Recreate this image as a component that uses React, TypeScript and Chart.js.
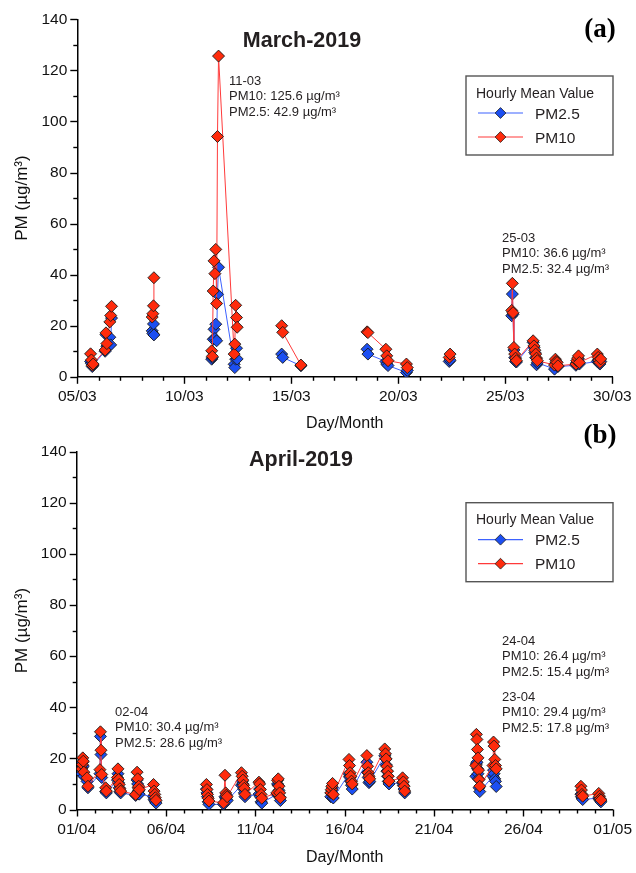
import React, { useEffect, useRef } from 'react';
import { Chart, registerables } from 'chart.js';

Chart.register(...registerables);

// ---------------- DATA ----------------
// March 2019: time = day of month (fractional, hourly readings)
const marchTime = [
  5.62, 5.66, 5.70, 5.74, 6.30, 6.34, 6.38, 6.52, 6.56, 6.60,
  8.50, 8.53, 8.56, 8.58,
  11.28, 11.31, 11.35, 11.39, 11.43, 11.47, 11.51, 11.55, 11.60,
  12.33, 12.36, 12.40, 12.44, 12.47,
  14.55, 14.60, 15.45,
  18.54, 18.58, 19.42, 19.46, 19.52, 20.38, 20.42,
  22.38, 22.42,
  25.30, 25.33, 25.36, 25.40, 25.44, 25.48, 25.52,
  26.30, 26.34, 26.38, 26.42, 26.46, 26.50,
  27.30, 27.34, 27.38, 27.42, 27.46,
  28.30, 28.34, 28.38, 28.42, 28.46,
  29.30, 29.34, 29.38, 29.42, 29.46,
];
const marchPM25 = [
  6.0, 5.2, 4.0, 4.6, 10.0, 16.5, 12.0, 15.5, 12.5, 23.0,
  18.0, 17.0, 20.7, 16.4,
  6.9, 7.5, 14.7, 18.6, 15.0, 20.6, 14.1, 32.3, 42.9,
  4.9, 3.6, 6.9, 11.2, 7.0,
  8.9, 7.6, 4.3,
  10.8, 8.9, 6.0, 5.0, 4.4, 1.7, 2.5,
  6.0, 6.5,
  23.9, 32.4, 24.5, 10.5, 7.5, 6.0, 5.8,
  13.5, 11.5, 9.5, 7.5, 4.7, 5.5,
  3.0, 5.0, 5.5, 4.5, 4.0,
  4.5, 5.5, 6.5, 7.0, 5.0,
  6.0, 6.5, 5.5, 5.0, 6.0,
];
const marchPM10 = [
  9.0, 6.6, 4.5, 5.0, 10.5, 17.2, 13.0, 21.5, 24.0, 27.6,
  23.4, 24.7, 27.8, 38.8,
  10.2, 8.0, 33.6, 45.4, 40.4, 49.9, 28.7, 94.1, 125.6,
  8.9, 12.8, 28.0, 23.2, 19.4,
  20.0, 17.4, 4.6,
  17.6, 17.3, 10.8, 8.2, 6.3, 5.0, 3.6,
  7.6, 8.9,
  26.0, 36.6, 25.1, 11.5, 8.9, 7.3, 6.3,
  14.1, 12.1, 10.4, 8.9, 7.3, 6.3,
  4.6, 6.9, 6.0, 5.6, 4.3,
  5.0, 6.3, 7.3, 8.2, 5.6,
  8.9, 7.6, 6.5, 5.6, 7.0,
];
const marchTickValues = [5, 10, 15, 20, 25, 30];
const marchTickLabels = ['05/03', '10/03', '15/03', '20/03', '25/03', '30/03'];

// April 2019: time = day of month (31 = 01/05)
const aprilTime = [
  1.28, 1.31, 1.34, 1.37, 1.40, 1.58, 1.63,
  2.30, 2.33, 2.36, 2.40, 2.62, 2.66,
  3.28, 3.31, 3.34, 3.38, 3.42, 3.46,
  4.30, 4.38, 4.41, 4.44, 4.47, 4.50,
  5.30, 5.33, 5.37, 5.40, 5.44,
  8.26, 8.29, 8.32, 8.36, 8.40,
  9.22, 9.30, 9.34, 9.38, 9.42,
  10.22, 10.26, 10.30, 10.34, 10.38, 10.42,
  11.20, 11.24, 11.28, 11.32, 11.36,
  12.20, 12.24, 12.28, 12.32, 12.36, 12.40,
  15.22, 15.25, 15.28, 15.32, 15.36,
  16.24, 16.27, 16.30, 16.34, 16.38, 16.42,
  17.24, 17.28, 17.32, 17.36, 17.40,
  18.24, 18.28, 18.32, 18.36, 18.40, 18.44, 18.48,
  19.24, 19.28, 19.32, 19.36,
  23.34, 23.37, 23.40, 23.43, 23.46, 23.49, 23.52, 23.56,
  24.30, 24.33, 24.36, 24.40, 24.44, 24.48,
  29.22, 29.25, 29.28, 29.32,
  30.22, 30.26, 30.30, 30.34,
];
const aprilPM25 = [
  14.0, 16.5, 18.5, 17.0, 13.0, 11.0, 8.5,
  14.0, 28.6, 21.5, 12.5, 7.0, 6.5,
  11.5, 14.0, 10.5, 8.5, 7.0, 6.5,
  5.5, 11.5, 10.0, 7.0, 7.5, 6.0,
  5.0, 4.0, 3.5, 3.0, 2.5,
  8.0, 6.5, 5.0, 3.0, 2.0,
  2.0, 5.0, 4.5, 4.0, 3.5,
  9.5, 11.0, 10.0, 8.0, 6.5, 5.0,
  6.0, 8.0, 5.0, 3.0, 2.5,
  6.0, 10.0, 9.5, 7.5, 5.0, 3.5,
  5.0, 6.5, 7.5, 8.5, 4.5,
  14.0, 13.0, 12.5, 11.0, 9.5, 8.0,
  18.5, 14.5, 12.5, 10.5, 11.0,
  21.0, 20.0, 17.5, 15.0, 13.0, 11.0, 10.0,
  10.5, 9.5, 8.0, 6.5,
  13.0, 17.8, 18.5, 16.0, 14.0, 12.0, 8.5, 7.0,
  13.0, 15.4, 14.0, 12.0, 11.0, 9.0,
  6.0, 5.0, 4.5, 3.9,
  4.5, 4.0, 3.5, 3.0,
];
const aprilPM10 = [
  15.9, 17.6, 20.2, 18.9, 14.6, 12.4, 9.1,
  15.6, 30.4, 23.2, 13.7, 8.5, 7.2,
  12.5, 15.9, 11.7, 9.8, 8.1, 7.2,
  5.9, 14.6, 12.0, 8.5, 9.1, 7.8,
  9.8, 7.2, 5.9, 4.6, 3.6,
  9.8, 7.8, 5.9, 4.4, 3.3,
  2.6, 13.4, 6.5, 5.6, 5.0,
  14.4, 13.0, 11.5, 9.5, 8.3, 5.9,
  10.7, 10.0, 7.8, 5.9, 4.4,
  6.5, 11.4, 12.0, 9.1, 6.5, 4.6,
  6.5, 7.8, 9.1, 10.2, 5.9,
  19.6, 17.2, 14.4, 13.0, 11.1, 10.0,
  21.1, 16.9, 14.4, 13.0, 12.0,
  23.7, 21.8, 19.8, 16.9, 15.0, 13.0, 11.1,
  12.4, 10.8, 9.1, 7.2,
  17.2, 29.4, 27.4, 23.5, 20.2, 15.4, 11.7, 9.1,
  17.2, 26.4, 24.8, 19.6, 17.2, 15.9,
  9.1, 7.6, 5.9, 5.2,
  6.3, 5.2, 4.2, 3.7,
];
const aprilTickValues = [1, 6, 11, 16, 21, 26, 31];
const aprilTickLabels = ['01/04', '06/04', '11/04', '16/04', '21/04', '26/04', '01/05'];

const yTickValues = [0, 20, 40, 60, 80, 100, 120, 140];
const seriesNames = ['PM2.5', 'PM10'];
const legendTitle = 'Hourly Mean Value';
const xAxisTitle = 'Day/Month';
const yAxisTitle = 'PM (µg/m³)';

const marchTitle = 'March-2019';
const aprilTitle = 'April-2019';
const marchNotes = [
  ['11-03', 'PM10: 125.6 µg/m³', 'PM2.5: 42.9 µg/m³'],
  ['25-03', 'PM10: 36.6 µg/m³', 'PM2.5: 32.4 µg/m³'],
];
const aprilNotes = [
  ['02-04', 'PM10: 30.4 µg/m³', 'PM2.5: 28.6 µg/m³'],
  ['24-04', 'PM10: 26.4 µg/m³', 'PM2.5: 15.4 µg/m³'],
  ['23-04', 'PM10: 29.4 µg/m³', 'PM2.5: 17.8 µg/m³'],
];

// ---------------- STYLE ----------------
const FONT = '"Liberation Sans", Arial, Helvetica, sans-serif';
const BLUE_FILL = '#1c4ff2';
const BLUE_LINE = '#3d62ff';
const RED_FILL = '#ff2b0c';
const RED_LINE = '#ff3a3a';
const MARK_BORDER = '#1a1a1a';

function drawDiamond(ctx: CanvasRenderingContext2D, x: number, y: number, r: number, fill: string) {
  ctx.beginPath();
  ctx.moveTo(x, y - r);
  ctx.lineTo(x + r, y);
  ctx.lineTo(x, y + r);
  ctx.lineTo(x - r, y);
  ctx.closePath();
  ctx.fillStyle = fill;
  ctx.fill();
  ctx.lineWidth = 0.8;
  ctx.strokeStyle = MARK_BORDER;
  ctx.stroke();
}

const overlayPlugin = {
  id: 'overlay',
  afterDraw(chart: any, _args: any, opts: any) {
    const { ctx, chartArea } = chart;
    const xs = chart.scales.x;
    const ys = chart.scales.y;
    ctx.save();
    // tick marks (major + minor)
    ctx.strokeStyle = '#000';
    ctx.lineWidth = 1.4;
    for (let v = xs.min; v <= xs.max + 1e-6; v += 1) {
      const px = Math.round(xs.getPixelForValue(v)) + 0.5;
      const major = opts.xMajor.includes(v);
      ctx.beginPath();
      ctx.moveTo(px, chartArea.bottom);
      ctx.lineTo(px, chartArea.bottom + (major ? 7 : 4));
      ctx.stroke();
    }
    for (let v = ys.min; v <= ys.max + 1e-6; v += 10) {
      const py = Math.round(ys.getPixelForValue(v)) + 0.5;
      const major = v % 20 === 0;
      ctx.beginPath();
      ctx.moveTo(chartArea.left, py);
      ctx.lineTo(chartArea.left - (major ? 7 : 4), py);
      ctx.stroke();
    }
    // panel title
    ctx.fillStyle = '#231f20';
    ctx.textAlign = 'center';
    ctx.textBaseline = 'alphabetic';
    ctx.font = `bold 21.5px ${FONT}`;
    ctx.fillText(opts.title, opts.titleX, opts.titleY);
    // panel letter
    ctx.font = 'bold 27px "Liberation Serif", "Times New Roman", serif';
    ctx.fillStyle = '#000';
    ctx.fillText(opts.panel, 600, opts.panelY);
    // annotations
    ctx.textAlign = 'left';
    ctx.fillStyle = '#231f20';
    ctx.font = `13px ${FONT}`;
    opts.notes.forEach((n: any) => {
      n.lines.forEach((line: string, i: number) => {
        ctx.fillText(line, n.x, n.y + i * 15.4);
      });
    });
    // legend
    const L = 466, R = 613, T = opts.legendTop;
    ctx.strokeStyle = '#555';
    ctx.lineWidth = 1.4;
    ctx.strokeRect(L, T, R - L, 79);
    ctx.fillStyle = '#231f20';
    ctx.font = `14px ${FONT}`;
    ctx.fillText(opts.legendTitle, 476, T + 21.5);
    const rows = [
      { name: opts.names[0], line: BLUE_LINE, fill: BLUE_FILL, y: T + 37 },
      { name: opts.names[1], line: RED_LINE, fill: RED_FILL, y: T + 61 },
    ];
    rows.forEach((r) => {
      ctx.strokeStyle = r.line;
      ctx.lineWidth = 1.2;
      ctx.beginPath();
      ctx.moveTo(478, r.y);
      ctx.lineTo(523, r.y);
      ctx.stroke();
      drawDiamond(ctx, 500.5, r.y, 5.4, r.fill);
      ctx.fillStyle = '#231f20';
      ctx.font = `15.5px ${FONT}`;
      ctx.fillText(r.name, 535, r.y + 5.5);
    });
    ctx.restore();
  },
};

type Panel = {
  time: number[];
  pm25: number[];
  pm10: number[];
  tickValues: number[];
  tickLabels: string[];
  canvasTop: number;
  height: number;
  areaTop: number;
  areaBottom: number;
  areaLeft: number;
  areaRight: number;
  xTitlePad: number;
  overlay: any;
};

function buildConfig(p: Panel): any {
  const mk = (vals: number[]) => p.time.map((t, i) => ({ x: t, y: vals[i] }));
  const series = (i: number, vals: number[], line: string, fill: string, order: number) => ({
    label: seriesNames[i],
    data: mk(vals),
    order,
    borderColor: line,
    borderWidth: 1,
    pointStyle: 'rectRot',
    pointRadius: 6,
    pointBackgroundColor: fill,
    pointBorderColor: MARK_BORDER,
    pointBorderWidth: 0.9,
    spanGaps: 1.2,
    tension: 0,
  });
  return {
    type: 'line',
    data: {
      datasets: [
        series(0, p.pm25, BLUE_LINE, BLUE_FILL, 1),
        series(1, p.pm10, RED_LINE, RED_FILL, 0),
      ],
    },
    options: {
      animation: false,
      responsive: false,
      events: [],
      layout: {
        padding: { left: 0, top: p.areaTop, right: 636 - p.areaRight, bottom: 0 },
      },
      plugins: {
        legend: { display: false },
        tooltip: { enabled: false },
        overlay: p.overlay,
      },
      scales: {
        x: {
          type: 'linear',
          min: p.tickValues[0],
          max: p.tickValues[p.tickValues.length - 1],
          afterBuildTicks: (s: any) => {
            s.ticks = p.tickValues.map((v) => ({ value: v }));
          },
          afterFit: (s: any) => {
            s.height = p.height - p.areaBottom;
          },
          grid: { display: false },
          border: { display: true, color: '#000', width: 1.5 },
          ticks: {
            autoSkip: false,
            maxRotation: 0,
            padding: 3,
            color: '#111',
            font: { family: FONT, size: 15.5 },
            callback: (v: any) => {
              const i = p.tickValues.indexOf(Number(v));
              return i >= 0 ? p.tickLabels[i] : '';
            },
          },
          title: {
            display: true,
            text: xAxisTitle,
            color: '#111',
            font: { family: FONT, size: 16 },
            padding: { top: 0, bottom: p.xTitlePad },
          },
        },
        y: {
          type: 'linear',
          min: 0,
          max: 140,
          afterBuildTicks: (s: any) => {
            s.ticks = yTickValues.map((v) => ({ value: v }));
          },
          afterFit: (s: any) => {
            s.width = p.areaLeft;
          },
          grid: { display: false },
          border: { display: true, color: '#000', width: 1.5 },
          ticks: {
            padding: 2,
            color: '#111',
            font: { family: FONT, size: 15.5 },
          },
          title: {
            display: true,
            text: yAxisTitle,
            color: '#111',
            font: { family: FONT, size: 17 },
            padding: { top: 12, bottom: 0 },
          },
        },
      },
    },
    plugins: [overlayPlugin],
  };
}

const marchPanel: Panel = {
  time: marchTime,
  pm25: marchPM25,
  pm10: marchPM10,
  tickValues: marchTickValues,
  tickLabels: marchTickLabels,
  canvasTop: 0,
  height: 436,
  areaTop: 19.3,
  areaBottom: 376.8,
  areaLeft: 77.3,
  areaRight: 612.3,
  xTitlePad: 3,
  overlay: {
    title: marchTitle,
    titleX: 302,
    titleY: 47,
    panel: '(a)',
    panelY: 37,
    xMajor: marchTickValues,
    legendTop: 76,
    legendTitle,
    names: seriesNames,
    notes: [
      { x: 229, y: 85, lines: marchNotes[0] },
      { x: 502, y: 242, lines: marchNotes[1] },
    ],
  },
};

const aprilPanel: Panel = {
  time: aprilTime,
  pm25: aprilPM25,
  pm10: aprilPM10,
  tickValues: aprilTickValues,
  tickLabels: aprilTickLabels,
  canvasTop: 416,
  height: 457,
  areaTop: 35.7,
  areaBottom: 393.5,
  areaLeft: 76.7,
  areaRight: 612.7,
  xTitlePad: 6,
  overlay: {
    title: aprilTitle,
    titleX: 301,
    titleY: 50,
    panel: '(b)',
    panelY: 27,
    xMajor: aprilTickValues,
    legendTop: 86.7,
    legendTitle,
    names: seriesNames,
    notes: [
      { x: 115, y: 300, lines: aprilNotes[0] },
      { x: 502, y: 229, lines: aprilNotes[1] },
      { x: 502, y: 284.7, lines: aprilNotes[2] },
    ],
  },
};

function PMChart({ panel }: { panel: Panel }) {
  const ref = useRef<HTMLCanvasElement>(null);
  useEffect(() => {
    if (!ref.current) return;
    const chart = new Chart(ref.current, buildConfig(panel));
    return () => chart.destroy();
  }, [panel]);
  return (
    <canvas
      ref={ref}
      width={636}
      height={panel.height}
      style={{ position: 'absolute', left: 0, top: panel.canvasTop, width: 636, height: panel.height }}
    />
  );
}

export default function App() {
  return (
    <div style={{ position: 'absolute', left: 0, top: 0, width: 636, height: 873, background: '#fff' }}>
      <PMChart panel={marchPanel} />
      <PMChart panel={aprilPanel} />
    </div>
  );
}
